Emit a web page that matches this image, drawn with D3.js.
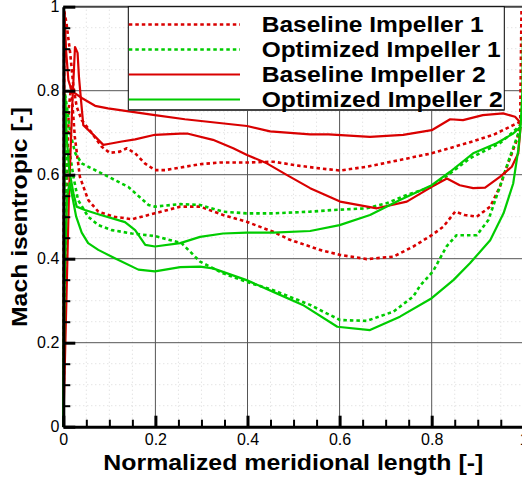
<!DOCTYPE html>
<html><head><meta charset="utf-8">
<script src="https://cdn.jsdelivr.net/npm/d3@7"></script>
<style>body{margin:0;background:#fff}svg{display:block}</style>
</head><body><svg id="c" width="522" height="481"></svg>
<script>
// ---------- data ----------
const seriesNames = ["Baseline Impeller 1", "Optimized Impeller 1", "Baseline Impeller 2", "Optimized Impeller 2"];
const xTicks = [0, 0.2, 0.4, 0.6, 0.8, 1];
const yTicks = [0, 0.2, 0.4, 0.6, 0.8, 1];

// Baseline Impeller 1 (two sides of the blade loading loop)
const baseline1SideA = [[0,0],[0.001,0.5],[0.002,0.99],[0.007,0.96],[0.015,0.889],[0.022,0.81],[0.029,0.762],[0.040,0.730],[0.062,0.699],[0.083,0.667],[0.101,0.652],[0.123,0.655],[0.138,0.663],[0.156,0.651],[0.177,0.627],[0.199,0.611],[0.221,0.611],[0.254,0.617],[0.297,0.625],[0.340,0.629],[0.398,0.629],[0.456,0.631],[0.514,0.621],[0.557,0.615],[0.601,0.610],[0.659,0.619],[0.731,0.635],[0.800,0.651],[0.876,0.675],[0.934,0.695],[0.977,0.718],[0.992,0.726]];
const baseline1SideB = [[0,0],[0.005,0.45],[0.012,0.76],[0.017,0.81],[0.025,0.69],[0.036,0.595],[0.054,0.540],[0.076,0.512],[0.110,0.500],[0.149,0.494],[0.199,0.508],[0.254,0.524],[0.297,0.524],[0.347,0.504],[0.398,0.488],[0.456,0.464],[0.492,0.445],[0.536,0.429],[0.557,0.421],[0.601,0.409],[0.659,0.399],[0.717,0.405],[0.760,0.429],[0.800,0.456],[0.825,0.476],[0.851,0.512],[0.872,0.504],[0.898,0.500],[0.927,0.524],[0.948,0.571],[0.966,0.627],[0.985,0.683],[0.992,0.714],[0.995,0.99]];

// Optimized Impeller 1
const optimized1SideA = [[0,0],[0.002,0.5],[0.004,0.79],[0.008,0.76],[0.015,0.70],[0.026,0.651],[0.040,0.627],[0.054,0.619],[0.091,0.599],[0.141,0.571],[0.185,0.528],[0.199,0.524],[0.254,0.530],[0.297,0.528],[0.347,0.512],[0.398,0.508],[0.456,0.508],[0.536,0.512],[0.587,0.516],[0.659,0.520],[0.702,0.532],[0.746,0.552],[0.800,0.571],[0.840,0.603],[0.883,0.639],[0.919,0.659],[0.948,0.675],[0.977,0.702],[0.992,0.718]];
const optimized1SideB = [[0,0],[0.003,0.4],[0.008,0.66],[0.013,0.66],[0.022,0.595],[0.032,0.540],[0.054,0.500],[0.076,0.480],[0.105,0.468],[0.149,0.460],[0.199,0.454],[0.257,0.437],[0.297,0.393],[0.347,0.365],[0.398,0.345],[0.456,0.325],[0.536,0.290],[0.557,0.278],[0.601,0.254],[0.659,0.252],[0.717,0.274],[0.760,0.310],[0.775,0.336],[0.803,0.370],[0.832,0.429],[0.854,0.456],[0.898,0.456],[0.923,0.492],[0.948,0.571],[0.970,0.643],[0.988,0.698],[0.993,0.718]];

// Baseline Impeller 2
const baseline2SideA = [[0,0],[0.0015,0.54],[0.0026,0.985],[0.006,0.897],[0.011,0.825],[0.019,0.797],[0.028,0.792],[0.041,0.782],[0.069,0.764],[0.097,0.758],[0.199,0.742],[0.264,0.732],[0.399,0.716],[0.449,0.703],[0.536,0.696],[0.576,0.696],[0.666,0.690],[0.738,0.695],[0.800,0.706],[0.840,0.732],[0.868,0.730],[0.911,0.742],[0.955,0.746],[0.981,0.738],[0.992,0.725]];
const baseline2SideB = [[0,0],[0.012,0.539],[0.019,0.754],[0.022,0.825],[0.0254,0.904],[0.031,0.890],[0.034,0.833],[0.0384,0.778],[0.0434,0.718],[0.0617,0.699],[0.0869,0.671],[0.0977,0.673],[0.127,0.679],[0.156,0.684],[0.199,0.695],[0.254,0.698],[0.269,0.698],[0.325,0.683],[0.369,0.663],[0.399,0.647],[0.442,0.627],[0.486,0.599],[0.536,0.568],[0.601,0.536],[0.681,0.520],[0.746,0.536],[0.800,0.571],[0.833,0.591],[0.861,0.575],[0.890,0.568],[0.916,0.569],[0.948,0.595],[0.974,0.619],[0.988,0.651],[0.993,0.714]];

// Optimized Impeller 2
const optimized2SideA = [[0,0],[0.002,0.5],[0.004,0.786],[0.008,0.68],[0.013,0.61],[0.022,0.556],[0.029,0.524],[0.047,0.516],[0.076,0.506],[0.134,0.487],[0.156,0.468],[0.178,0.433],[0.199,0.429],[0.254,0.437],[0.297,0.452],[0.347,0.460],[0.398,0.462],[0.456,0.462],[0.536,0.466],[0.600,0.480],[0.666,0.504],[0.731,0.540],[0.800,0.575],[0.840,0.607],[0.890,0.651],[0.941,0.675],[0.977,0.698],[0.993,0.714],[0.997,0.80],[0.998,0.93]];
const optimized2SideB = [[0,0],[0.003,0.35],[0.008,0.55],[0.014,0.58],[0.028,0.50],[0.040,0.462],[0.054,0.437],[0.076,0.421],[0.112,0.401],[0.163,0.374],[0.199,0.370],[0.254,0.380],[0.297,0.381],[0.325,0.377],[0.398,0.349],[0.456,0.321],[0.520,0.290],[0.595,0.238],[0.666,0.230],[0.731,0.262],[0.800,0.306],[0.847,0.349],[0.883,0.389],[0.927,0.444],[0.956,0.508],[0.977,0.579],[0.988,0.659],[0.993,0.714]];

// ---------- chart ----------
const W = 522, H = 481;
const svg = d3.select("#c");
const FONT = "'Liberation Sans', Arial, Helvetica, sans-serif";
const RED = "#d90000", GREEN = "#00cc00";

const x = d3.scaleLinear().domain([0, 1]).range([63.3, 523.8]);
const y = d3.scaleLinear().domain([0, 1]).range([426.7, 6.7]);

const minorTicks = d3.range(0, 1.0001, 0.05).map(v => +v.toFixed(2)).filter(v => !xTicks.includes(v));

// minor dotted grid
const grid = svg.append("g");
grid.selectAll("line.mx").data(minorTicks).join("line")
  .attr("x1", d => x(d)).attr("x2", d => x(d)).attr("y1", y(0)).attr("y2", y(1))
  .attr("stroke", "#d8d8d8").attr("stroke-width", 1).attr("stroke-dasharray", "1,3");
grid.selectAll("line.my").data(minorTicks).join("line")
  .attr("y1", d => y(d)).attr("y2", d => y(d)).attr("x1", x(0)).attr("x2", x(1))
  .attr("stroke", "#d8d8d8").attr("stroke-width", 1).attr("stroke-dasharray", "1,3");
// major grid
grid.selectAll("line.gx").data(xTicks.slice(1)).join("line")
  .attr("x1", d => x(d)).attr("x2", d => x(d)).attr("y1", y(0)).attr("y2", y(1))
  .attr("stroke", "#555").attr("stroke-width", 1);
grid.selectAll("line.gy").data(yTicks.slice(1, -1)).join("line")
  .attr("y1", d => y(d)).attr("y2", d => y(d)).attr("x1", x(0)).attr("x2", x(1))
  .attr("stroke", "#555").attr("stroke-width", 1);
// top border
svg.append("line").attr("x1", x(0)).attr("x2", x(1)).attr("y1", y(1)).attr("y2", y(1))
  .attr("stroke", "#444").attr("stroke-width", 2);

// curves
const line = d3.line().x(d => x(d[0])).y(d => y(d[1]));
const curves = [
  {data: baseline1SideA, color: RED, dash: "3.5,3"},
  {data: baseline1SideB, color: RED, dash: "3.5,3"},
  {data: optimized1SideA, color: GREEN, dash: "3.5,3"},
  {data: optimized1SideB, color: GREEN, dash: "3.5,3"},
  {data: baseline2SideA, color: RED, dash: null},
  {data: baseline2SideB, color: RED, dash: null},
  {data: optimized2SideA, color: GREEN, dash: null},
  {data: optimized2SideB, color: GREEN, dash: null}
];
svg.append("g").selectAll("path").data(curves).join("path")
  .attr("d", d => line(d.data)).attr("fill", "none")
  .attr("stroke", d => d.color).attr("stroke-width", d => d.dash ? 2.6 : 2.2)
  .attr("stroke-dasharray", d => d.dash).attr("stroke-linejoin", "round");

// axes
const fmt = d => String(+(+d).toFixed(1));
const gy = svg.append("g").attr("transform", `translate(${x(0)},0)`);
gy.call(d3.axisLeft(y).tickValues(minorTicks).tickSize(-7).tickSizeOuter(0).tickFormat(""));
gy.selectAll(".tick line").attr("stroke", "#000").attr("stroke-width", 2);
gy.select(".domain").remove();
const gy2 = svg.append("g").attr("transform", `translate(${x(0)},0)`);
gy2.call(d3.axisLeft(y).tickValues(yTicks).tickSize(-12).tickSizeOuter(0).tickPadding(4).tickFormat(fmt));
gy2.selectAll(".tick line").attr("stroke", "#000").attr("stroke-width", 3);
gy2.select(".domain").attr("stroke", "#000").attr("stroke-width", 3);
gy2.selectAll("text").attr("font-family", FONT).attr("font-size", 16).attr("fill", "#000");

const gx = svg.append("g").attr("transform", `translate(0,${y(0)})`);
gx.call(d3.axisBottom(x).tickValues(minorTicks).tickSize(-7).tickSizeOuter(0).tickFormat(""));
gx.selectAll(".tick line").attr("stroke", "#000").attr("stroke-width", 2);
gx.select(".domain").remove();
const gx2 = svg.append("g").attr("transform", `translate(0,${y(0)})`);
gx2.call(d3.axisBottom(x).tickValues(xTicks).tickSize(-11).tickSizeOuter(0).tickPadding(7).tickFormat(fmt));
gx2.selectAll(".tick line").attr("stroke", "#000").attr("stroke-width", 3);
gx2.select(".domain").attr("stroke", "#000").attr("stroke-width", 3);
gx2.selectAll("text").attr("font-family", FONT).attr("font-size", 16).attr("fill", "#000");

// axis titles
svg.append("text").attr("x", 293.3).attr("y", 470).attr("text-anchor", "middle")
  .attr("font-family", FONT).attr("font-weight", "bold").attr("font-size", 22)
  .attr("textLength", 380).attr("lengthAdjust", "spacingAndGlyphs")
  .text("Normalized meridional length [-]");
svg.append("text").attr("transform", "translate(27,217) rotate(-90)").attr("text-anchor", "middle")
  .attr("font-family", FONT).attr("font-weight", "bold").attr("font-size", 22)
  .attr("textLength", 220).attr("lengthAdjust", "spacingAndGlyphs")
  .text("Mach isentropic [-]");

// legend
const lg = svg.append("g");
lg.append("rect").attr("x", 128.3).attr("y", 6.7).attr("width", 376).attr("height", 103.3)
  .attr("fill", "#fff").attr("stroke", "#000").attr("stroke-width", 1);
lg.append("line").attr("x1", 128.3).attr("x2", 504.3).attr("y1", 110).attr("y2", 110)
  .attr("stroke", "#444").attr("stroke-width", 2);
const legendItems = [
  {name: seriesNames[0], color: RED, dash: "3.5,3", w: 222},
  {name: seriesNames[1], color: GREEN, dash: "3.5,3", w: 239},
  {name: seriesNames[2], color: RED, dash: null, w: 224},
  {name: seriesNames[3], color: GREEN, dash: null, w: 241}
];
legendItems.forEach((d, i) => {
  const cy = 24.5 + i * 25;
  lg.append("line").attr("x1", 128.8).attr("x2", 240).attr("y1", cy).attr("y2", cy)
    .attr("stroke", d.color).attr("stroke-width", d.dash ? 2.6 : 2.2).attr("stroke-dasharray", d.dash);
  lg.append("text").attr("x", 261.7).attr("y", cy + 7.3)
    .attr("font-family", FONT).attr("font-weight", "bold").attr("font-size", 22.5)
    .attr("textLength", d.w).attr("lengthAdjust", "spacingAndGlyphs").text(d.name);
});
</script></body></html>
